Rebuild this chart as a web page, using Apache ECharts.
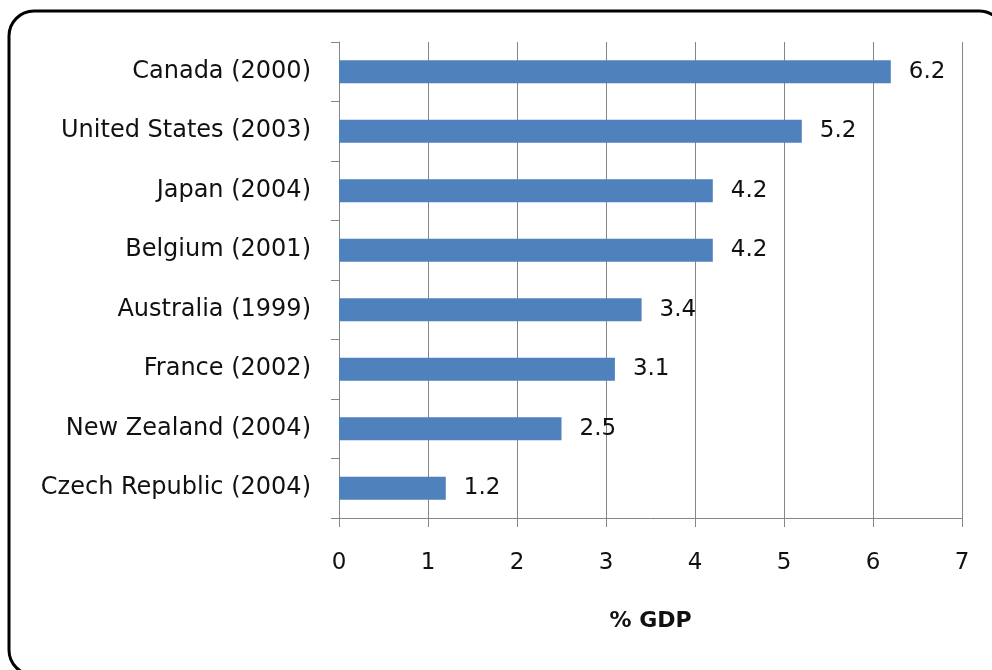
<!DOCTYPE html>
<html><head><meta charset="utf-8">
<script src="https://cdn.jsdelivr.net/npm/echarts@6/dist/echarts.min.js"></script>
<style>html,body{margin:0;padding:0;background:#fff}#c{width:992px;height:670px}</style>
</head><body><div id="c"></div>
<script>
const categories = ["Czech Republic (2004)","New Zealand (2004)","France (2002)","Australia (1999)","Belgium (2001)","Japan (2004)","United States (2003)","Canada (2000)"];
const values = [1.2, 2.5, 3.1, 3.4, 4.2, 4.2, 5.2, 6.2];
const xTicks = [0,1,2,3,4,5,6,7];
const axisTitle = "% GDP";

const font = "'DejaVu Sans', sans-serif";
const chart = echarts.init(document.getElementById('c'), null, {renderer:'canvas'});
chart.setOption({
  animation:false,
  backgroundColor:'#fff',
  graphic:[{type:'rect', shape:{x:9,y:11,width:995,height:664,r:25}, style:{fill:'none',stroke:'#000',lineWidth:3}, z:-1}],
  grid:{left:339,right:30,top:42,bottom:152,containLabel:false},
  xAxis:{type:'value',min:xTicks[0],max:xTicks[xTicks.length-1],interval:1,
    name:axisTitle,nameLocation:'middle',nameGap:92,
    nameTextStyle:{fontFamily:font,fontSize:22,fontWeight:'bold',color:'#111'},
    axisLine:{show:true,lineStyle:{color:'#868686',width:1}},
    axisTick:{show:true,length:9,lineStyle:{color:'#868686'}},
    axisLabel:{margin:34,fontFamily:font,fontSize:23,color:'#111'},
    splitLine:{show:true,lineStyle:{color:'#868686',width:1}}},
  yAxis:{type:'category',data:categories,
    axisLine:{show:true,lineStyle:{color:'#868686',width:1}},
    axisTick:{show:true,length:8,lineStyle:{color:'#868686'}},
    axisLabel:{margin:28,fontFamily:font,fontSize:24,color:'#111'}},
  series:[{type:'bar',data:values,barWidth:'39%',
    itemStyle:{color:'#4F81BD'},
    label:{show:true,position:'right',distance:18,fontFamily:font,fontSize:23,color:'#111',formatter:p=>p.value.toFixed(1)}}]
});
</script></body></html>
